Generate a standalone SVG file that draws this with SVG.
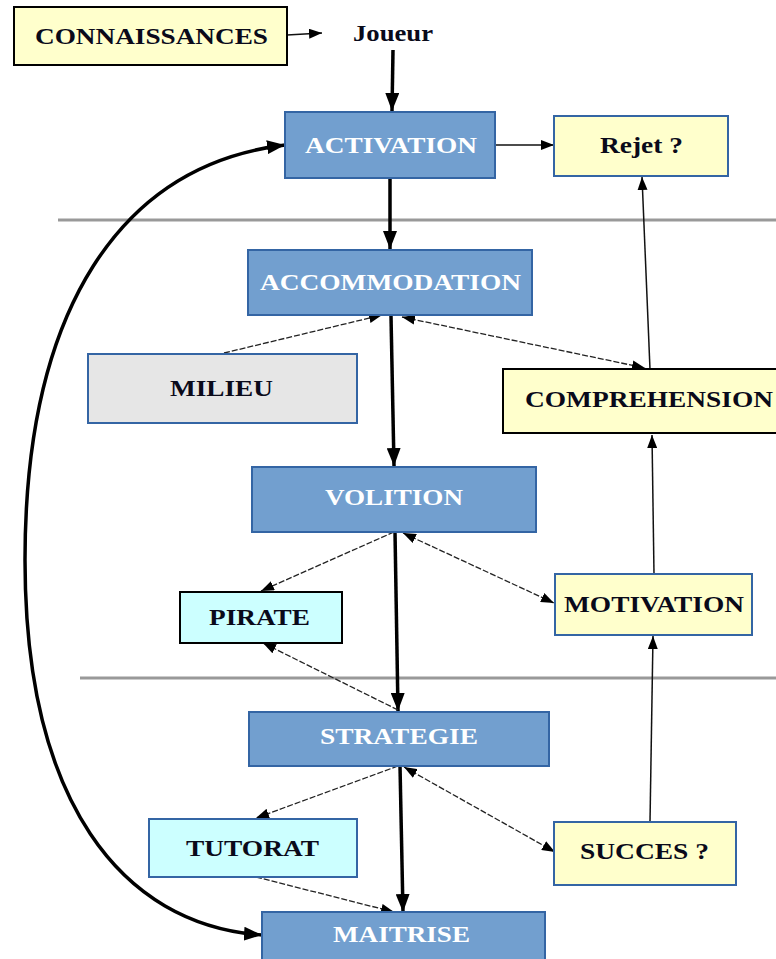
<svg xmlns="http://www.w3.org/2000/svg" width="776" height="959" viewBox="0 0 776 959">
<defs>
<style>
.t{font-family:"Liberation Serif","Times New Roman",serif;font-weight:bold;font-size:24px;text-anchor:middle}
.dk{fill:#0a0a1a}
.wh{fill:#ffffff}
.blue{fill:#729fcf;stroke:#3465a4;stroke-width:2}
.yel{fill:#ffffcc}
.yb{stroke:#3465a4;stroke-width:2}
.kb{stroke:#000;stroke-width:2}
.cy{fill:#ccffff}
.gr{fill:#e6e6e6;stroke:#3465a4;stroke-width:2}
.thick{fill:none;stroke:#000;stroke-width:3.5;marker-end:url(#ahb)}
.thin{fill:none;stroke:#111;stroke-width:1.5;marker-end:url(#ah)}
.dash{fill:none;stroke:#222;stroke-width:1.3;stroke-dasharray:6 2;marker-end:url(#ah)}
.dash2{fill:none;stroke:#222;stroke-width:1.3;stroke-dasharray:6 2;marker-start:url(#ah);marker-end:url(#ah)}
.sep{stroke:#999;stroke-width:3}
</style>
<marker id="ah" markerUnits="userSpaceOnUse" markerWidth="13" markerHeight="10" refX="13" refY="5" orient="auto-start-reverse" viewBox="0 0 13 10"><path d="M0,0 L13,5 L0,10 Z" fill="#000"/></marker>
<marker id="ahb" markerUnits="userSpaceOnUse" markerWidth="18" markerHeight="14" refX="18" refY="7" orient="auto-start-reverse" viewBox="0 0 18 14"><path d="M0,0 L18,7 L0,14 Z" fill="#000"/></marker>
</defs>
<rect width="776" height="959" fill="#fff"/>
<g id="separators">
<line class="sep" x1="58" y1="220" x2="776" y2="220"/>
<line class="sep" x1="80" y1="678" x2="776" y2="678"/>
</g>
<g id="connectors">
<path class="thin" d="M287,35 L322,33"/>
<path class="thick" d="M393,50 L392,111"/>
<path class="thin" d="M495,145 L554,145"/>
<path class="thick" d="M390,178 L390,249"/>
<path class="dash" d="M224,353 L382,315"/>
<path class="dash2" d="M402,317 L645,368"/>
<path class="thin" d="M650,369 L642,177"/>
<path class="thick" d="M391,316 L394,466"/>
<path class="dash" d="M394,532 L261,591"/>
<path class="dash2" d="M403,533 L554,603"/>
<path class="thin" d="M654,574 L652,435"/>
<path class="thick" d="M395,532 L398,711"/>
<path class="dash" d="M398,710 L263,643"/>
<path class="dash" d="M398,766 L256,818"/>
<path class="dash2" d="M404,767 L555,852"/>
<path class="thin" d="M650,822 L653,636"/>
<path class="thick" d="M400,766 L403,912"/>
<path class="dash" d="M256,877 L394,912"/>
<path fill="none" stroke="#000" stroke-width="3.5" marker-start="url(#ahb)" marker-end="url(#ahb)" d="M262,935 C120,925 25,800 25,560 C25,310 120,165 285,145"/>
</g>
<g id="connaissances">
<rect class="yel kb" x="14" y="7" width="273" height="58"/>
<text class="t dk" x="151.5" y="44" textLength="233" lengthAdjust="spacingAndGlyphs">CONNAISSANCES</text>
</g>
<g id="joueur">
<text class="t dk" x="393" y="41" font-size="22" textLength="80" lengthAdjust="spacingAndGlyphs">Joueur</text>
</g>
<g id="activation">
<rect class="blue" x="285" y="112" width="210" height="66"/>
<text class="t wh" x="391" y="153" textLength="172" lengthAdjust="spacingAndGlyphs">ACTIVATION</text>
</g>
<g id="rejet">
<rect class="yel yb" x="554" y="116" width="174" height="60"/>
<text class="t dk" x="641.5" y="153" textLength="83" lengthAdjust="spacingAndGlyphs">Rejet ?</text>
</g>
<g id="accommodation">
<rect class="blue" x="248" y="250" width="284" height="65"/>
<text class="t wh" x="390.5" y="290" textLength="261" lengthAdjust="spacingAndGlyphs">ACCOMMODATION</text>
</g>
<g id="milieu">
<rect class="gr" x="88" y="354" width="269" height="69"/>
<text class="t dk" x="221.5" y="396" textLength="103" lengthAdjust="spacingAndGlyphs">MILIEU</text>
</g>
<g id="comprehension">
<rect class="yel kb" x="503" y="369" width="280" height="64"/>
<text class="t dk" x="649" y="407" textLength="248" lengthAdjust="spacingAndGlyphs">COMPREHENSION</text>
</g>
<g id="volition">
<rect class="blue" x="252" y="467" width="284" height="65"/>
<text class="t wh" x="394" y="505" textLength="138" lengthAdjust="spacingAndGlyphs">VOLITION</text>
</g>
<g id="pirate">
<rect class="cy kb" x="180" y="592" width="162" height="51"/>
<text class="t dk" x="259.5" y="625" textLength="101" lengthAdjust="spacingAndGlyphs">PIRATE</text>
</g>
<g id="motivation">
<rect class="yel yb" x="555" y="574" width="197" height="61"/>
<text class="t dk" x="654" y="612" textLength="180" lengthAdjust="spacingAndGlyphs">MOTIVATION</text>
</g>
<g id="strategie">
<rect class="blue" x="249" y="712" width="300" height="54"/>
<text class="t wh" x="399" y="744" textLength="158" lengthAdjust="spacingAndGlyphs">STRATEGIE</text>
</g>
<g id="tutorat">
<rect class="cy yb" x="149" y="819" width="208" height="58"/>
<text class="t dk" x="252.5" y="856" textLength="133" lengthAdjust="spacingAndGlyphs">TUTORAT</text>
</g>
<g id="succes">
<rect class="yel yb" x="554" y="822" width="182" height="63"/>
<text class="t dk" x="644.5" y="859" textLength="129" lengthAdjust="spacingAndGlyphs">SUCCES ?</text>
</g>
<g id="maitrise">
<rect class="blue" x="262" y="912" width="283" height="55"/>
<text class="t wh" x="401.5" y="942" textLength="137" lengthAdjust="spacingAndGlyphs">MAITRISE</text>
</g>
</svg>
